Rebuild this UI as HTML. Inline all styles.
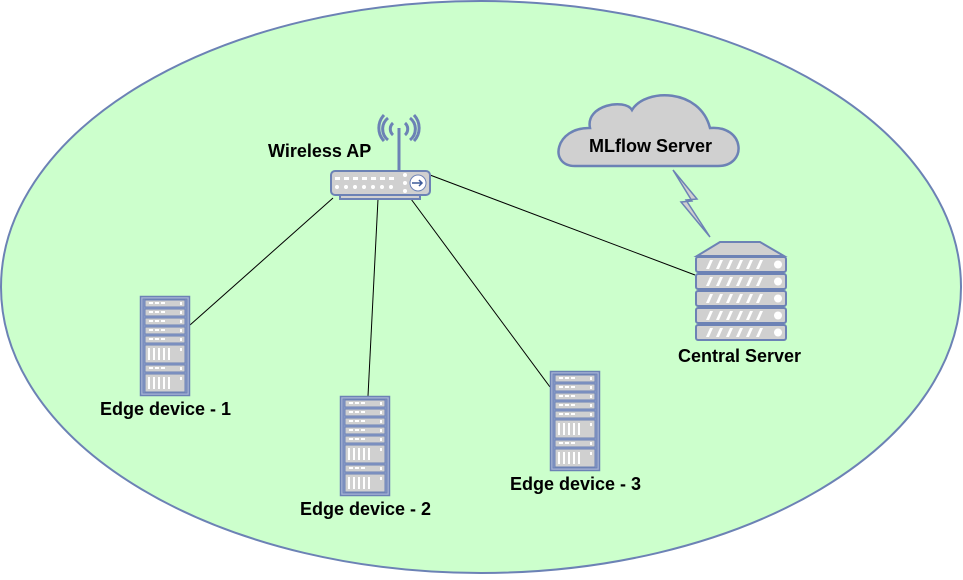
<!DOCTYPE html>
<html><head><style>body{margin:0;background:#fff}svg text{font-family:"Liberation Sans",sans-serif;font-weight:bold;font-size:18px;fill:#000}</style></head>
<body>
<svg width="963" height="575" viewBox="0 0 963 575" xmlns="http://www.w3.org/2000/svg">
<defs>
<g id="rack">
<rect x="0.5" y="0.5" width="49" height="99" fill="#a8b4d6" stroke="#6c82b5" stroke-width="1.5"/>
<rect x="3" y="3" width="44" height="94" fill="#8a9cc9" stroke="#6c82b5"/>
<g fill="#d0d0d0" stroke="#6c82b5">
<rect x="5" y="4" width="40" height="7"/><rect x="5" y="13" width="40" height="7"/><rect x="5" y="22" width="40" height="7"/><rect x="5" y="31" width="40" height="7"/><rect x="5" y="40" width="40" height="7"/>
<rect x="5" y="49" width="40" height="18"/><rect x="5" y="69" width="40" height="7"/><rect x="5" y="78" width="40" height="18"/>
</g>
<g fill="#fff">
<rect x="9" y="6" width="4" height="2"/><rect x="15" y="6" width="4" height="2"/><rect x="21" y="6" width="4" height="2"/><rect x="40" y="6" width="2" height="3"/>
<rect x="9" y="15" width="4" height="2"/><rect x="15" y="15" width="4" height="2"/><rect x="21" y="15" width="4" height="2"/><rect x="40" y="15" width="2" height="3"/>
<rect x="9" y="24" width="4" height="2"/><rect x="15" y="24" width="4" height="2"/><rect x="21" y="24" width="4" height="2"/><rect x="40" y="24" width="2" height="3"/>
<rect x="9" y="33" width="4" height="2"/><rect x="15" y="33" width="4" height="2"/><rect x="21" y="33" width="4" height="2"/><rect x="40" y="33" width="2" height="3"/>
<rect x="9" y="42" width="4" height="2"/><rect x="15" y="42" width="4" height="2"/><rect x="21" y="42" width="4" height="2"/><rect x="40" y="42" width="2" height="3"/>
<rect x="8" y="52" width="2" height="12"/><rect x="13" y="52" width="2" height="12"/><rect x="18" y="52" width="2" height="12"/><rect x="23" y="52" width="2" height="12"/><rect x="28" y="52" width="2" height="12"/><rect x="40" y="52" width="2" height="3"/>
<rect x="9" y="71" width="4" height="2"/><rect x="15" y="71" width="4" height="2"/><rect x="21" y="71" width="4" height="2"/><rect x="40" y="71" width="2" height="3"/>
<rect x="8" y="81" width="2" height="12"/><rect x="13" y="81" width="2" height="12"/><rect x="18" y="81" width="2" height="12"/><rect x="23" y="81" width="2" height="12"/><rect x="28" y="81" width="2" height="12"/><rect x="40" y="81" width="2" height="3"/>
</g>
</g>
<g id="unit">
<rect x="0" y="0" width="90" height="15" rx="2" fill="#d0d0d0" stroke="#6c82b5" stroke-width="2"/>
<path d="M10 12l4-9h3l-4 9zM20 12l4-9h3l-4 9zM30 12l4-9h3l-4 9zM40 12l4-9h3l-4 9zM50 12l4-9h3l-4 9zM60 12l4-9h3l-4 9z" fill="#fff"/>
<circle cx="82" cy="7.5" r="4" fill="#fff"/>
</g>
</defs>
<ellipse cx="481" cy="287" rx="480" ry="286" fill="#ccffcc" stroke="#6c82b5" stroke-width="2"/>
<g stroke="#000" stroke-width="1">
<line x1="333" y1="198" x2="190" y2="325"/>
<line x1="378" y1="199" x2="368" y2="396"/>
<line x1="411" y1="199" x2="550" y2="387"/>
<line x1="430" y1="175" x2="695" y2="275"/>
</g>
<g stroke="#6c82b5" fill="none" stroke-width="3">
<line x1="399" y1="128" x2="399" y2="170"/>
<path d="M393 123a8 8 0 0 0 0 12M405 123a8 8 0 0 1 0 12M388 118a14 14 0 0 0 0 22M410 118a14 14 0 0 1 0 22M384 115a19 19 0 0 0 0 26M414 115a19 19 0 0 1 0 26"/>
</g>
<rect x="340" y="194" width="80" height="5" fill="#d0d0d0" stroke="#6c82b5" stroke-width="2"/>
<rect x="331" y="171" width="99" height="24" rx="4" fill="#d0d0d0" stroke="#6c82b5" stroke-width="2"/>
<g fill="#fff">
<rect x="335" y="177" width="5" height="3"/><rect x="344" y="177" width="5" height="3"/><rect x="353" y="177" width="5" height="3"/><rect x="362" y="177" width="5" height="3"/><rect x="371" y="177" width="5" height="3"/><rect x="380" y="177" width="5" height="3"/><rect x="389" y="177" width="5" height="3"/>
<circle cx="337" cy="187" r="2"/><circle cx="346" cy="187" r="2"/><circle cx="355" cy="187" r="2"/><circle cx="364" cy="187" r="2"/><circle cx="373" cy="187" r="2"/><circle cx="382" cy="187" r="2"/><circle cx="391" cy="187" r="2"/>
<circle cx="405" cy="175" r="2"/><circle cx="405" cy="183" r="2"/><circle cx="405" cy="191" r="2"/>
<circle cx="418" cy="183" r="8" stroke="#6c82b5"/>
</g>
<path d="M412 183h10M419 180l3 3-3 3" stroke="#3c5a9a" stroke-width="1.5" fill="none"/>
<text x="268" y="157">Wireless AP</text>
<use href="#rack" x="140" y="296"/>
<use href="#rack" x="340" y="396"/>
<use href="#rack" x="550" y="371"/>
<text x="100" y="415">Edge device - 1</text>
<text x="300" y="515">Edge device - 2</text>
<text x="510" y="490">Edge device - 3</text>
<path d="M575 166 C548 166 555 127 590 128 C585 105 625 98 632 110 C645 88 700 88 710 128 C745 125 748 166 718 166 Z" fill="#d0d0d0" stroke="#6c82b5" stroke-width="2.5"/>
<text x="589" y="152">MLflow Server</text>
<path d="M673 170 L697 199 L686 200 L710 237 L681 202 L692 201 Z" fill="#d0d0d0" stroke="#6c82b5" stroke-width="1.5"/>
<path d="M697 256 L720 242 L760 242 L784 256 Z" fill="#d0d0d0" stroke="#6c82b5" stroke-width="2"/>
<use href="#unit" x="696" y="257"/>
<use href="#unit" x="696" y="274"/>
<use href="#unit" x="696" y="291"/>
<use href="#unit" x="696" y="308"/>
<use href="#unit" x="696" y="325"/>
<text x="678" y="362">Central Server</text>
</svg>
</body></html>
